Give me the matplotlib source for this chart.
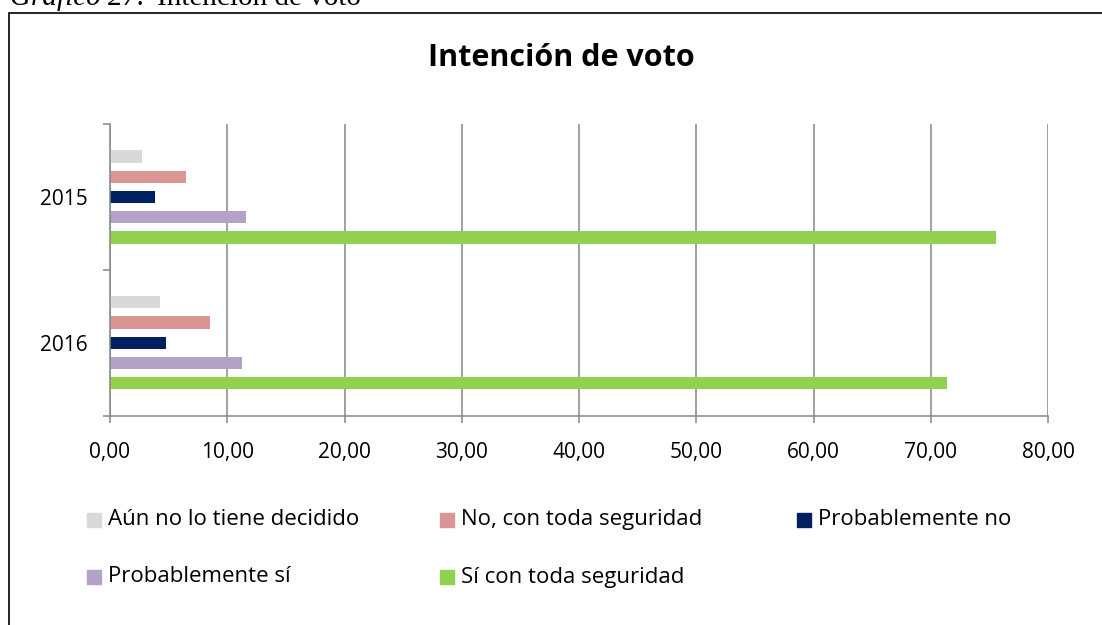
import matplotlib.pyplot as plt
from matplotlib.patches import Rectangle
import numpy as np

years = ["2016", "2015"]
series = ["Aún no lo tiene decidido", "No, con toda seguridad", "Probablemente no",
          "Probablemente sí", "Sí con toda seguridad"]
colors = ["#D9D9D9", "#D99694", "#002060", "#B3A2C7", "#92D050"]
# values per series, order: 2016, 2015
aun = [4.3, 2.7]
no_seguro = [8.5, 6.5]
prob_no = [4.8, 3.8]
prob_si = [11.3, 11.6]
si_seguro = [71.4, 75.6]
values = [aun, no_seguro, prob_no, prob_si, si_seguro]
xticks = np.arange(0, 81, 10)

plt.rcParams['font.family'] = ['Open Sans', 'DejaVu Sans']

fig = plt.figure(figsize=(11.02, 6.25), dpi=100)
ax = fig.add_axes([110/1102, 1-415.7/625, (1048-110)/1102, (415.7-124)/625])

grid_col = '#868686'
y = np.arange(len(years))
step = 0.139
for i, vals in enumerate(values):
    off = (2 - i) * step
    ax.barh(y + off, vals, height=0.084, color=colors[i], zorder=3)

ax.set_xlim(0, 80)
ax.set_ylim(-0.5, 1.5)
ax.set_xticks(xticks)
ax.set_xticklabels([("%.2f" % v).replace('.', ',') for v in xticks])
ax.set_yticks(y)
ax.set_yticklabels(years)
ax.set_yticks([-0.5, 0.5, 1.5], minor=True)
ax.tick_params(axis='y', which='major', length=0, pad=16, labelsize=15)
ax.tick_params(axis='y', which='minor', length=5, width=1.1, color=grid_col)
ax.tick_params(axis='x', length=5, width=1.1, color=grid_col, pad=14, labelsize=15)
ax.grid(axis='x', color=grid_col, linewidth=1.1, zorder=0)
for s in ['top', 'right']:
    ax.spines[s].set_visible(False)
for s in ['left', 'bottom']:
    ax.spines[s].set_color(grid_col)
    ax.spines[s].set_linewidth(1.1)
    ax.spines[s].set_zorder(4)

fig.text(561/1102, 1-58.5/625, "Intención de voto", ha='center', va='center',
         fontsize=22, fontweight='bold')

# legend laid out like the excel one
col_x = [87, 440, 797]
row_y = [519.5, 577]
for i, name in enumerate(series):
    cx = col_x[i % 3]
    cy = row_y[i // 3]
    fig.patches.append(Rectangle((cx/1102, 1-(cy+7)/625), 14/1102, 14/625,
                                 transform=fig.transFigure, color=colors[i]))
    fig.text((cx+21)/1102, 1-cy/625, name, ha='left', va='center', fontsize=16)

# frame of the chart object and the caption above it (cut at the top edge)
fig.patches.append(Rectangle((8.5/1102, -0.1), 1.2, 1.1 - 12.5/625, transform=fig.transFigure,
                             fill=False, edgecolor='black', linewidth=1.2))
fig.text(10/1102, 1-5/625, "Gráfico 27.", family='Liberation Serif', style='italic',
         fontsize=21, ha='left', va='baseline')
fig.text(157/1102, 1-5/625, "Intención de voto", family='Liberation Serif',
         fontsize=21, ha='left', va='baseline')

fig.savefig("out.png", dpi=100)
